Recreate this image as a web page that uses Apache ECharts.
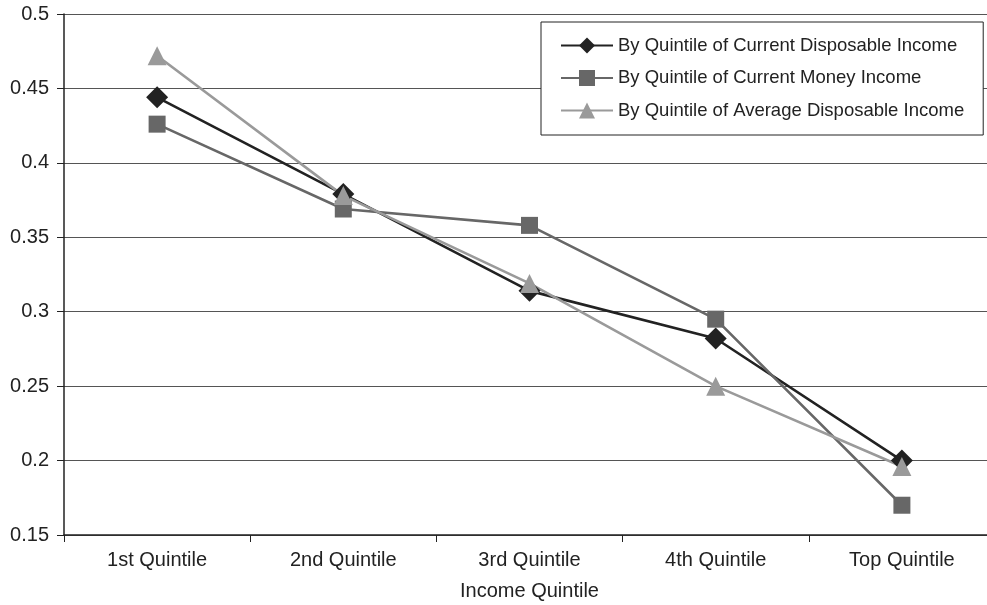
<!DOCTYPE html>
<html><head><meta charset="utf-8">
<script src="https://cdn.jsdelivr.net/npm/echarts@6/dist/echarts.min.js"></script>
<style>html,body{margin:0;padding:0;background:#fff}#c{width:987px;height:605px}</style>
</head><body><div id="c"></div>
<script>
const categories = ['1st Quintile','2nd Quintile','3rd Quintile','4th Quintile','Top Quintile'];
const currentDisposable = [0.444, 0.379, 0.314, 0.282, 0.200];
const currentMoney = [0.426, 0.369, 0.358, 0.295, 0.170];
const averageDisposable = [0.472, 0.378, 0.319, 0.250, 0.196];
const seriesNames = ['By Quintile of Current Disposable Income','By Quintile of Current Money Income','By Quintile of Average Disposable Income'];

const font = 'Liberation Sans, Arial, sans-serif';
const chart = echarts.init(document.getElementById('c'), null, {renderer:'canvas'});
function mk(name, data, color, symbol, size){
  return {name, type:'line', data, symbol, symbolSize:size, showAllSymbol:true,
    lineStyle:{color, width:2.6}, itemStyle:{color, borderWidth:0}, emphasis:{disabled:true}, animation:false};
}
chart.setOption({
  animation:false,
  grid:{left:64, width:931, top:14, bottom:70, containLabel:false, outerBoundsMode:'none'},
  legend:{
    orient:'vertical', left:541, top:22,
    padding:[14, 19, 15, 19], itemGap:13.5, itemWidth:52, itemHeight:20,
    backgroundColor:'#fff', borderColor:'#222', borderWidth:1, borderRadius:0,
    textStyle:{fontFamily:font, fontSize:18.5, color:'#222', padding:[0,0,0,0]},
    data:seriesNames
  },
  xAxis:{
    type:'category', data:categories, boundaryGap:true,
    name:'Income Quintile', nameLocation:'middle', nameGap:46,
    nameTextStyle:{fontFamily:font, fontSize:20, color:'#222'},
    axisLine:{lineStyle:{color:'#222', width:1.5}},
    axisTick:{show:true, length:7, lineStyle:{color:'#222'}},
    axisLabel:{fontFamily:font, fontSize:20, color:'#222', margin:15},
    splitLine:{show:false}
  },
  yAxis:{
    type:'value', min:0.15, max:0.5, interval:0.05,
    axisLine:{show:true, lineStyle:{color:'#222', width:1.5}},
    axisTick:{show:true, length:7, lineStyle:{color:'#222'}},
    axisLabel:{fontFamily:font, fontSize:20, color:'#222', margin:15,
      formatter:v=>String(+v.toFixed(2))},
    splitLine:{show:true, lineStyle:{color:'#555', width:1.2}}
  },
  series:[
    mk(seriesNames[0], currentDisposable, '#222222', 'diamond', 22),
    mk(seriesNames[1], currentMoney, '#676767', 'rect', 17),
    mk(seriesNames[2], averageDisposable, '#9a9a9a', 'triangle', 19)
  ]
});
</script></body></html>
